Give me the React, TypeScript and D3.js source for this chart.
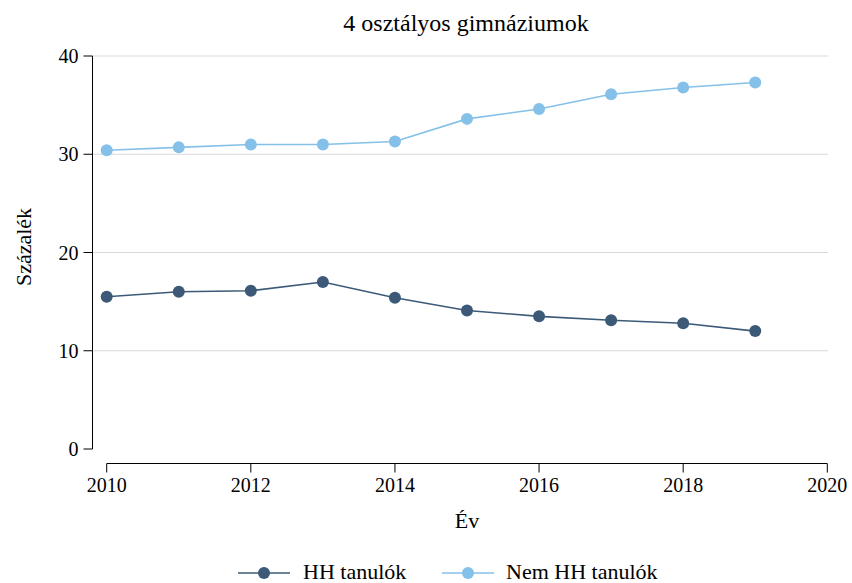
import React from "react";
import * as d3 from "d3";

const years = [2010, 2011, 2012, 2013, 2014, 2015, 2016, 2017, 2018, 2019];
const hhValues = [15.5, 16.0, 16.1, 17.0, 15.4, 14.1, 13.5, 13.1, 12.8, 12.0];
const nemHHValues = [30.4, 30.7, 31.0, 31.0, 31.3, 33.6, 34.6, 36.1, 36.8, 37.3];
const xTicks = [2010, 2012, 2014, 2016, 2018, 2020];
const yTicks = [0, 10, 20, 30, 40];
const seriesNames = ["HH tanulók", "Nem HH tanulók"];
const seriesColors = ["#3c5a78", "#85c0e9"];
const title = "4 osztályos gimnáziumok";
const xLabel = "Év";
const yLabel = "Százalék";

export default function App() {
  const W = 852, H = 583;
  const x = d3.scaleLinear().domain([2010, 2020]).range([106.7, 827.3]);
  const y = d3.scaleLinear().domain([0, 40]).range([449, 56]);
  const yAxisX = 92.5;
  const xAxisY = 463.5;
  const font = "Liberation Serif, serif";
  const series = [hhValues, nemHHValues];
  const line = d3.line<number>().x((_, i) => x(years[i])).y((d) => y(d));
  const legendItems = [
    { x0: 238, tx: 303 },
    { x0: 442, tx: 506 },
  ];
  return (
    <svg width={W} height={H} style={{ position: "absolute", left: 0, top: 0, background: "#fff", fontFamily: font }}>
      <rect width={W} height={H} fill="#fff" />
      {yTicks.filter((t) => t > 0).map((t) => (
        <line key={t} x1={yAxisX} x2={828} y1={y(t)} y2={y(t)} stroke="#d9d9d9" strokeWidth={1} />
      ))}
      <line x1={yAxisX} x2={yAxisX} y1={y(40)} y2={y(0)} stroke="#000" strokeWidth={1} />
      {yTicks.map((t) => (
        <g key={t}>
          <line x1={yAxisX - 9} x2={yAxisX} y1={y(t)} y2={y(t)} stroke="#000" strokeWidth={1} />
          <text x={yAxisX - 14} y={y(t)} dy="0.35em" textAnchor="end" fontSize={20} fill="#000" style={{ fontFamily: font }}>{t}</text>
        </g>
      ))}
      <line x1={x(2010)} x2={x(2020)} y1={xAxisY} y2={xAxisY} stroke="#000" strokeWidth={1} />
      {xTicks.map((t) => (
        <g key={t}>
          <line x1={x(t)} x2={x(t)} y1={xAxisY} y2={xAxisY + 9} stroke="#000" strokeWidth={1} />
          <text x={x(t)} y={492} textAnchor="middle" fontSize={20} fill="#000" style={{ fontFamily: font }}>{t}</text>
        </g>
      ))}
      {series.map((vals, si) => (
        <g key={si}>
          <path d={line(vals) || ""} fill="none" stroke={seriesColors[si]} strokeWidth={1.6} />
          {vals.map((v, i) => (
            <circle key={i} cx={x(years[i])} cy={y(v)} r={6} fill={seriesColors[si]} />
          ))}
        </g>
      ))}
      <text x={466} y={31} textAnchor="middle" fontSize={24} fill="#000" style={{ fontFamily: font }}>{title}</text>
      <text x={467} y={528} textAnchor="middle" fontSize={22} fill="#000" style={{ fontFamily: font }}>{xLabel}</text>
      <text transform={`translate(31,247) rotate(-90)`} textAnchor="middle" fontSize={22} fill="#000" style={{ fontFamily: font }}>{yLabel}</text>
      {seriesNames.map((n, i) => (
        <g key={n}>
          <line x1={legendItems[i].x0} x2={legendItems[i].x0 + 52} y1={573} y2={573} stroke={seriesColors[i]} strokeWidth={1.6} />
          <circle cx={legendItems[i].x0 + 26} cy={573} r={6} fill={seriesColors[i]} />
          <text x={legendItems[i].tx} y={579} fontSize={22} fill="#000" style={{ fontFamily: font }}>{n}</text>
        </g>
      ))}
    </svg>
  );
}
